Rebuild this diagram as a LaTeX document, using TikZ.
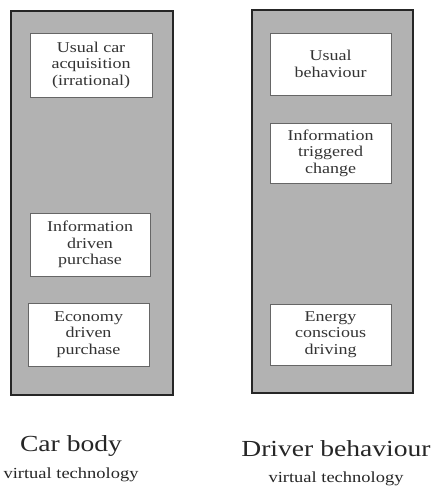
\documentclass[tikz,border=0pt]{standalone}
\usepackage{fontspec}
\setmainfont{Liberation Serif}[FakeStretch=1.2]
\begin{document}
\begin{tikzpicture}[x=1pt,y=-1pt,
  outer/.style={draw=black!85,line width=1.4pt,fill=black!30,minimum width=#1,inner sep=0pt},
  inbox/.style={draw=black!60,line width=0.9pt,fill=white,align=center,inner sep=0pt,font=\fontsize{15}{16.5}\selectfont,text=black!80},
  title/.style={font=\fontsize{23}{24}\selectfont,text=black!85},
  sub/.style={font=\fontsize{15.4}{16}\selectfont,text=black!85}]
\useasboundingbox (0,0) rectangle (435,486);
\node[outer=162pt,minimum height=384pt] (L) at (92,203) {};
\node[outer=161pt,minimum height=383pt] (R) at (332.5,201.5) {};
\node[inbox,minimum width=122pt,minimum height=64pt] (l1) at (91,65) {Usual car\\acquisition\\(irrational)};
\node[inbox,minimum width=120pt,minimum height=63pt] (l2) at (90,244.5) {Information\\driven\\purchase};
\node[inbox,minimum width=121pt,minimum height=63pt] (l3) at (88.5,334.5) {Economy\\driven\\purchase};
\node[inbox,minimum width=121pt,minimum height=62pt] (r1) at (330.5,64) {Usual\\behaviour};
\node[inbox,minimum width=121pt,minimum height=60pt] (r2) at (330.5,153) {Information\\triggered\\change};
\node[inbox,minimum width=121pt,minimum height=61pt] (r3) at (330.5,334.5) {Energy\\conscious\\driving};
\node[title] (lt) at (71,446) {Car body};
\node[sub] (ls) at (71,475) {virtual technology};
\node[title] (rt) at (336,449) {Driver behaviour};
\node[sub] (rs) at (336,479) {virtual technology};
\end{tikzpicture}
\end{document}
